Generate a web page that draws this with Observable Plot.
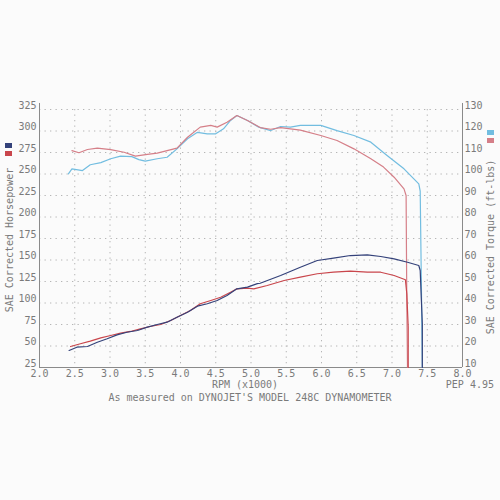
<!DOCTYPE html>
<html>
<head>
<meta charset="utf-8">
<script src="https://cdn.jsdelivr.net/npm/d3@7"></script>
<script src="https://cdn.jsdelivr.net/npm/@observablehq/plot@0.6"></script>
<style>
  html, body { margin: 0; padding: 0; background: #fbfbfb; }
  #wrap { position: relative; width: 500px; height: 500px; font-family: "DejaVu Sans Mono", monospace; color: #7a7a7a; }
  .t { position: absolute; font-size: 10px; line-height: 10px; white-space: nowrap; }
  .sq { position: absolute; width: 7px; height: 5px; }
</style>
</head>
<body>
<div id="wrap"></div>
<script>
// X ticks (RPM x1000) and left (HP) ticks; right torque ticks derived from same grid
const xTicks = [2.0, 2.5, 3.0, 3.5, 4.0, 4.5, 5.0, 5.5, 6.0, 6.5, 7.0, 7.5, 8.0];
const hpTicks = [25, 50, 75, 100, 125, 150, 175, 200, 225, 250, 275, 300, 325];
const tqTicks = [10, 20, 30, 40, 50, 60, 70, 80, 90, 100, 110, 120, 130];

// Run 1 torque (light blue)
const run1TqRpm = [2.41, 2.46, 2.61, 2.72, 2.87, 3.01, 3.15, 3.31, 3.41, 3.50, 3.67, 3.81, 3.95, 4.10, 4.24, 4.38, 4.50, 4.61, 4.71, 4.80, 4.95, 5.11, 5.28, 5.42, 5.56, 5.70, 5.99, 6.22, 6.46, 6.70, 6.93, 7.17, 7.38, 7.40, 7.42, 7.43];
const run1Tq    = [100.1, 102.4, 101.6, 104.3, 105.3, 107.1, 108.3, 108.1, 106.7, 106.0, 107.1, 107.8, 111.7, 116.4, 119.4, 118.7, 118.7, 121.0, 124.9, 127.2, 124.9, 121.8, 120.2, 122.1, 121.8, 122.6, 122.6, 120.2, 117.9, 114.8, 108.6, 102.4, 95.4, 92.0, 40.0, 10.0];

// Run 2 torque (pink red)
const run2TqRpm = [2.46, 2.56, 2.68, 2.82, 3.01, 3.20, 3.36, 3.53, 3.67, 3.81, 3.95, 4.10, 4.28, 4.43, 4.52, 4.66, 4.80, 4.95, 5.13, 5.28, 5.42, 5.56, 5.70, 5.99, 6.22, 6.46, 6.70, 6.88, 7.03, 7.17, 7.20, 7.21, 7.22];
const run2Tq    = [110.9, 109.9, 111.4, 112.0, 111.3, 110.1, 108.3, 109.1, 109.7, 110.9, 112.0, 117.1, 121.8, 122.6, 121.8, 124.1, 127.2, 124.9, 121.6, 120.8, 121.6, 121.0, 120.4, 117.9, 115.6, 111.7, 107.1, 103.2, 98.5, 93.1, 90.0, 40.0, 10.0];

// Run 1 horsepower (navy)
const run1HpRpm = [2.42, 2.53, 2.68, 2.82, 2.96, 3.10, 3.24, 3.39, 3.53, 3.67, 3.81, 3.95, 4.10, 4.24, 4.38, 4.52, 4.66, 4.80, 4.95, 5.09, 5.13, 5.42, 5.70, 5.94, 6.17, 6.41, 6.65, 6.84, 7.03, 7.22, 7.38, 7.40, 7.43, 7.43];
const run1Hp    = [44.8, 48.6, 49.4, 54.4, 58.4, 63.0, 66.0, 68.0, 71.9, 75.0, 77.7, 83.5, 89.3, 96.3, 99.1, 102.9, 108.7, 116.5, 118.4, 122.5, 123.0, 132.0, 141.6, 149.4, 152.1, 155.2, 156.0, 154.1, 151.4, 147.4, 143.6, 137.8, 75.8, 25.0];

// Run 2 horsepower (red)
const run2HpRpm = [2.44, 2.58, 2.72, 2.87, 3.01, 3.15, 3.29, 3.43, 3.57, 3.72, 3.86, 4.00, 4.14, 4.28, 4.43, 4.57, 4.71, 4.80, 4.95, 5.04, 5.23, 5.47, 5.70, 5.94, 6.17, 6.41, 6.65, 6.84, 7.03, 7.19, 7.21, 7.23, 7.23];
const run2Hp    = [49.4, 52.6, 55.6, 59.5, 62.2, 64.9, 66.9, 70.0, 72.7, 75.0, 79.7, 85.5, 91.3, 99.1, 102.9, 106.7, 112.6, 116.5, 117.2, 116.5, 120.3, 126.2, 130.0, 134.0, 135.8, 137.0, 135.8, 135.8, 132.0, 127.0, 110.7, 71.9, 25.0];

const colors = { run1Tq: "#72bde0", run2Tq: "#d57f88", run1Hp: "#34427a", run2Hp: "#c9464c" };

// torque plotted against the shared grid: 10 ft-lbs -> 25 hp, 130 -> 325
const tqToHp = t => 25 + (t - 10) * 2.5;
const hpToTq = h => 10 + (h - 25) / 2.5;

const rows = [];
run1TqRpm.forEach((r, i) => rows.push({ rpm: r, y: tqToHp(run1Tq[i]), s: "run1Tq" }));
run2TqRpm.forEach((r, i) => rows.push({ rpm: r, y: tqToHp(run2Tq[i]), s: "run2Tq" }));
run1HpRpm.forEach((r, i) => rows.push({ rpm: r, y: run1Hp[i], s: "run1Hp" }));
run2HpRpm.forEach((r, i) => rows.push({ rpm: r, y: run2Hp[i], s: "run2Hp" }));

const order = ["run1Tq", "run2Tq", "run2Hp", "run1Hp"];
const axisColor = "#8a8a8a";

const chart = Plot.plot({
  width: 500,
  height: 500,
  marginLeft: 39,
  marginRight: 38,
  marginTop: 109,
  marginBottom: 133,
  x: { domain: [2, 8] },
  y: { domain: [25, 325] },
  style: { background: "transparent", fontFamily: "DejaVu Sans Mono", fontSize: "10px", color: "#7a7a7a", overflow: "visible" },
  marks: [
    Plot.gridX(xTicks.slice(1, -1), { stroke: "#b5b5b5", strokeOpacity: 1, strokeDasharray: "1.3,4.2" }),
    Plot.gridY(hpTicks.slice(1), { stroke: "#b5b5b5", strokeOpacity: 1, strokeDasharray: "1.3,4.2" }),
    Plot.axisX(xTicks, { tickSize: 0, tickPadding: 2, tickFormat: d => d.toFixed(1), label: null, fill: "#7a7a7a" }),
    Plot.axisY(hpTicks, { anchor: "left", tickSize: 0, tickPadding: 3, label: null, fill: "#7a7a7a", dy: -4 }),
    Plot.axisY(hpTicks, { anchor: "right", tickSize: 0, tickPadding: 2, label: null, tickFormat: d => String(hpToTq(d)), fill: "#7a7a7a", dy: -4 }),
    Plot.ruleX([2, 8], { y1: 25, y2: 332, stroke: axisColor, strokeWidth: 1 }),
    Plot.ruleY([25], { stroke: axisColor, strokeWidth: 1 }),
    ...order.map(k => Plot.line(rows.filter(d => d.s === k), {
      x: "rpm", y: "y", stroke: colors[k], strokeWidth: 1.2, curve: "linear"
    }))
  ]
});

const wrap = document.getElementById("wrap");
chart.style.position = "absolute";
chart.style.left = "0px";
chart.style.top = "0px";
wrap.appendChild(chart);

function addText(txt, css) {
  const d = document.createElement("div");
  d.className = "t";
  d.textContent = txt;
  Object.assign(d.style, css);
  wrap.appendChild(d);
  return d;
}
function addSq(color, left, top) {
  const d = document.createElement("div");
  d.className = "sq";
  d.style.background = color;
  d.style.left = left + "px";
  d.style.top = top + "px";
  wrap.appendChild(d);
}

addText("RPM (x1000)", { left: "245px", top: "380px", transform: "translateX(-50%)" });
addText("As measured on DYNOJET'S MODEL 248C DYNAMOMETER", { left: "250px", top: "393px", transform: "translateX(-50%)" });
addText("PEP 4.95", { right: "6px", top: "380px" });
addText("SAE Corrected Horsepower", { left: "10px", top: "240px", transform: "translate(-50%, -50%) rotate(-90deg)" });
addText("SAE Corrected Torque (ft-lbs)", { left: "491px", top: "247px", transform: "translate(-50%, -50%) rotate(-90deg)" });

addSq(colors.run1Hp, 5, 143);
addSq(colors.run2Hp, 5, 151);
addSq(colors.run1Tq, 487, 130);
addSq(colors.run2Tq, 487, 138);
</script>
</body>
</html>
